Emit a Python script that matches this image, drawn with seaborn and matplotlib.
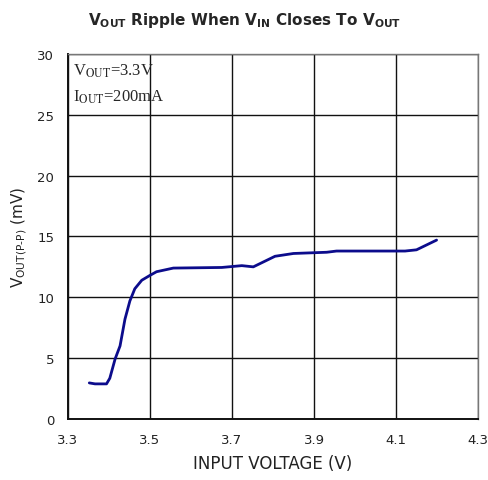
import numpy as np
import pandas as pd
import seaborn as sns
import matplotlib.pyplot as plt

# ripple vs input voltage
vin = [3.352, 3.366, 3.394, 3.402, 3.415, 3.427, 3.439, 3.451, 3.463, 3.480,
       3.500, 3.516, 3.557, 3.675, 3.724, 3.752, 3.805, 3.850, 3.931, 3.955,
       4.122, 4.150, 4.199]
ripple = [2.96, 2.88, 2.88, 3.34, 4.93, 6.0, 8.2, 9.7, 10.7, 11.4,
          11.8, 12.1, 12.4, 12.45, 12.6, 12.5, 13.37, 13.6, 13.7, 13.8,
          13.8, 13.9, 14.7]

x_ticks = [3.3, 3.5, 3.7, 3.9, 4.1, 4.3]
y_ticks = [0, 5, 10, 15, 20, 25, 30]

df = pd.DataFrame({"vin": vin, "ripple": ripple})

sns.set_style("white")
plt.rcParams["font.family"] = ["DejaVu Sans"]

fig = plt.figure(figsize=(4.89, 4.81), dpi=100)
ax = fig.add_axes([0.139, 0.127, 0.8385, 0.7587])

sns.lineplot(data=df, x="vin", y="ripple", ax=ax, color="#0c0c8c", linewidth=2.0)

ax.set_xlim(3.3, 4.3)
ax.set_ylim(0, 30)
ax.set_xticks(x_ticks)
ax.set_yticks(y_ticks)
ax.set_xticklabels([f"{t:.1f}" for t in x_ticks], fontsize=9.5, color="#222222")
ax.set_yticklabels([str(t) for t in y_ticks], fontsize=9.5, color="#222222")
ax.tick_params(axis="both", length=0, pad=10)
ax.grid(True, color="#111111", linewidth=1.0)

for side in ["left", "bottom"]:
    ax.spines[side].set_color("#111111")
    ax.spines[side].set_linewidth(1.4)
for side in ["top", "right"]:
    ax.spines[side].set_color("#777777")
    ax.spines[side].set_linewidth(1.0)

ax.set_xlabel("INPUT VOLTAGE (V)", fontsize=12, color="#222222", labelpad=6)
ax.set_ylabel("V$_{\\mathrm{OUT(P\u2010P)}}$ (mV)", fontsize=11, color="#222222",
              labelpad=6, math_fontfamily="dejavusans")

ax.text(0.012, 0.955, r"V$_{\rm OUT}$=3.3V", transform=ax.transAxes,
        fontsize=12, family="Liberation Serif", va="center", ha="left",
        math_fontfamily="stix")
ax.text(0.012, 0.885, r"I$_{\rm OUT}$=200mA", transform=ax.transAxes,
        fontsize=12, family="Liberation Serif", va="center", ha="left",
        math_fontfamily="stix")

fig.text(0.5, 0.958,
         r"$\mathbf{V}_{\mathbf{OUT}}$ Ripple When $\mathbf{V}_{\mathbf{IN}}$ Closes To $\mathbf{V}_{\mathbf{OUT}}$",
         ha="center", va="center", fontsize=11, fontweight="bold",
         math_fontfamily="dejavusans")

fig.savefig("out.png", dpi=100)
